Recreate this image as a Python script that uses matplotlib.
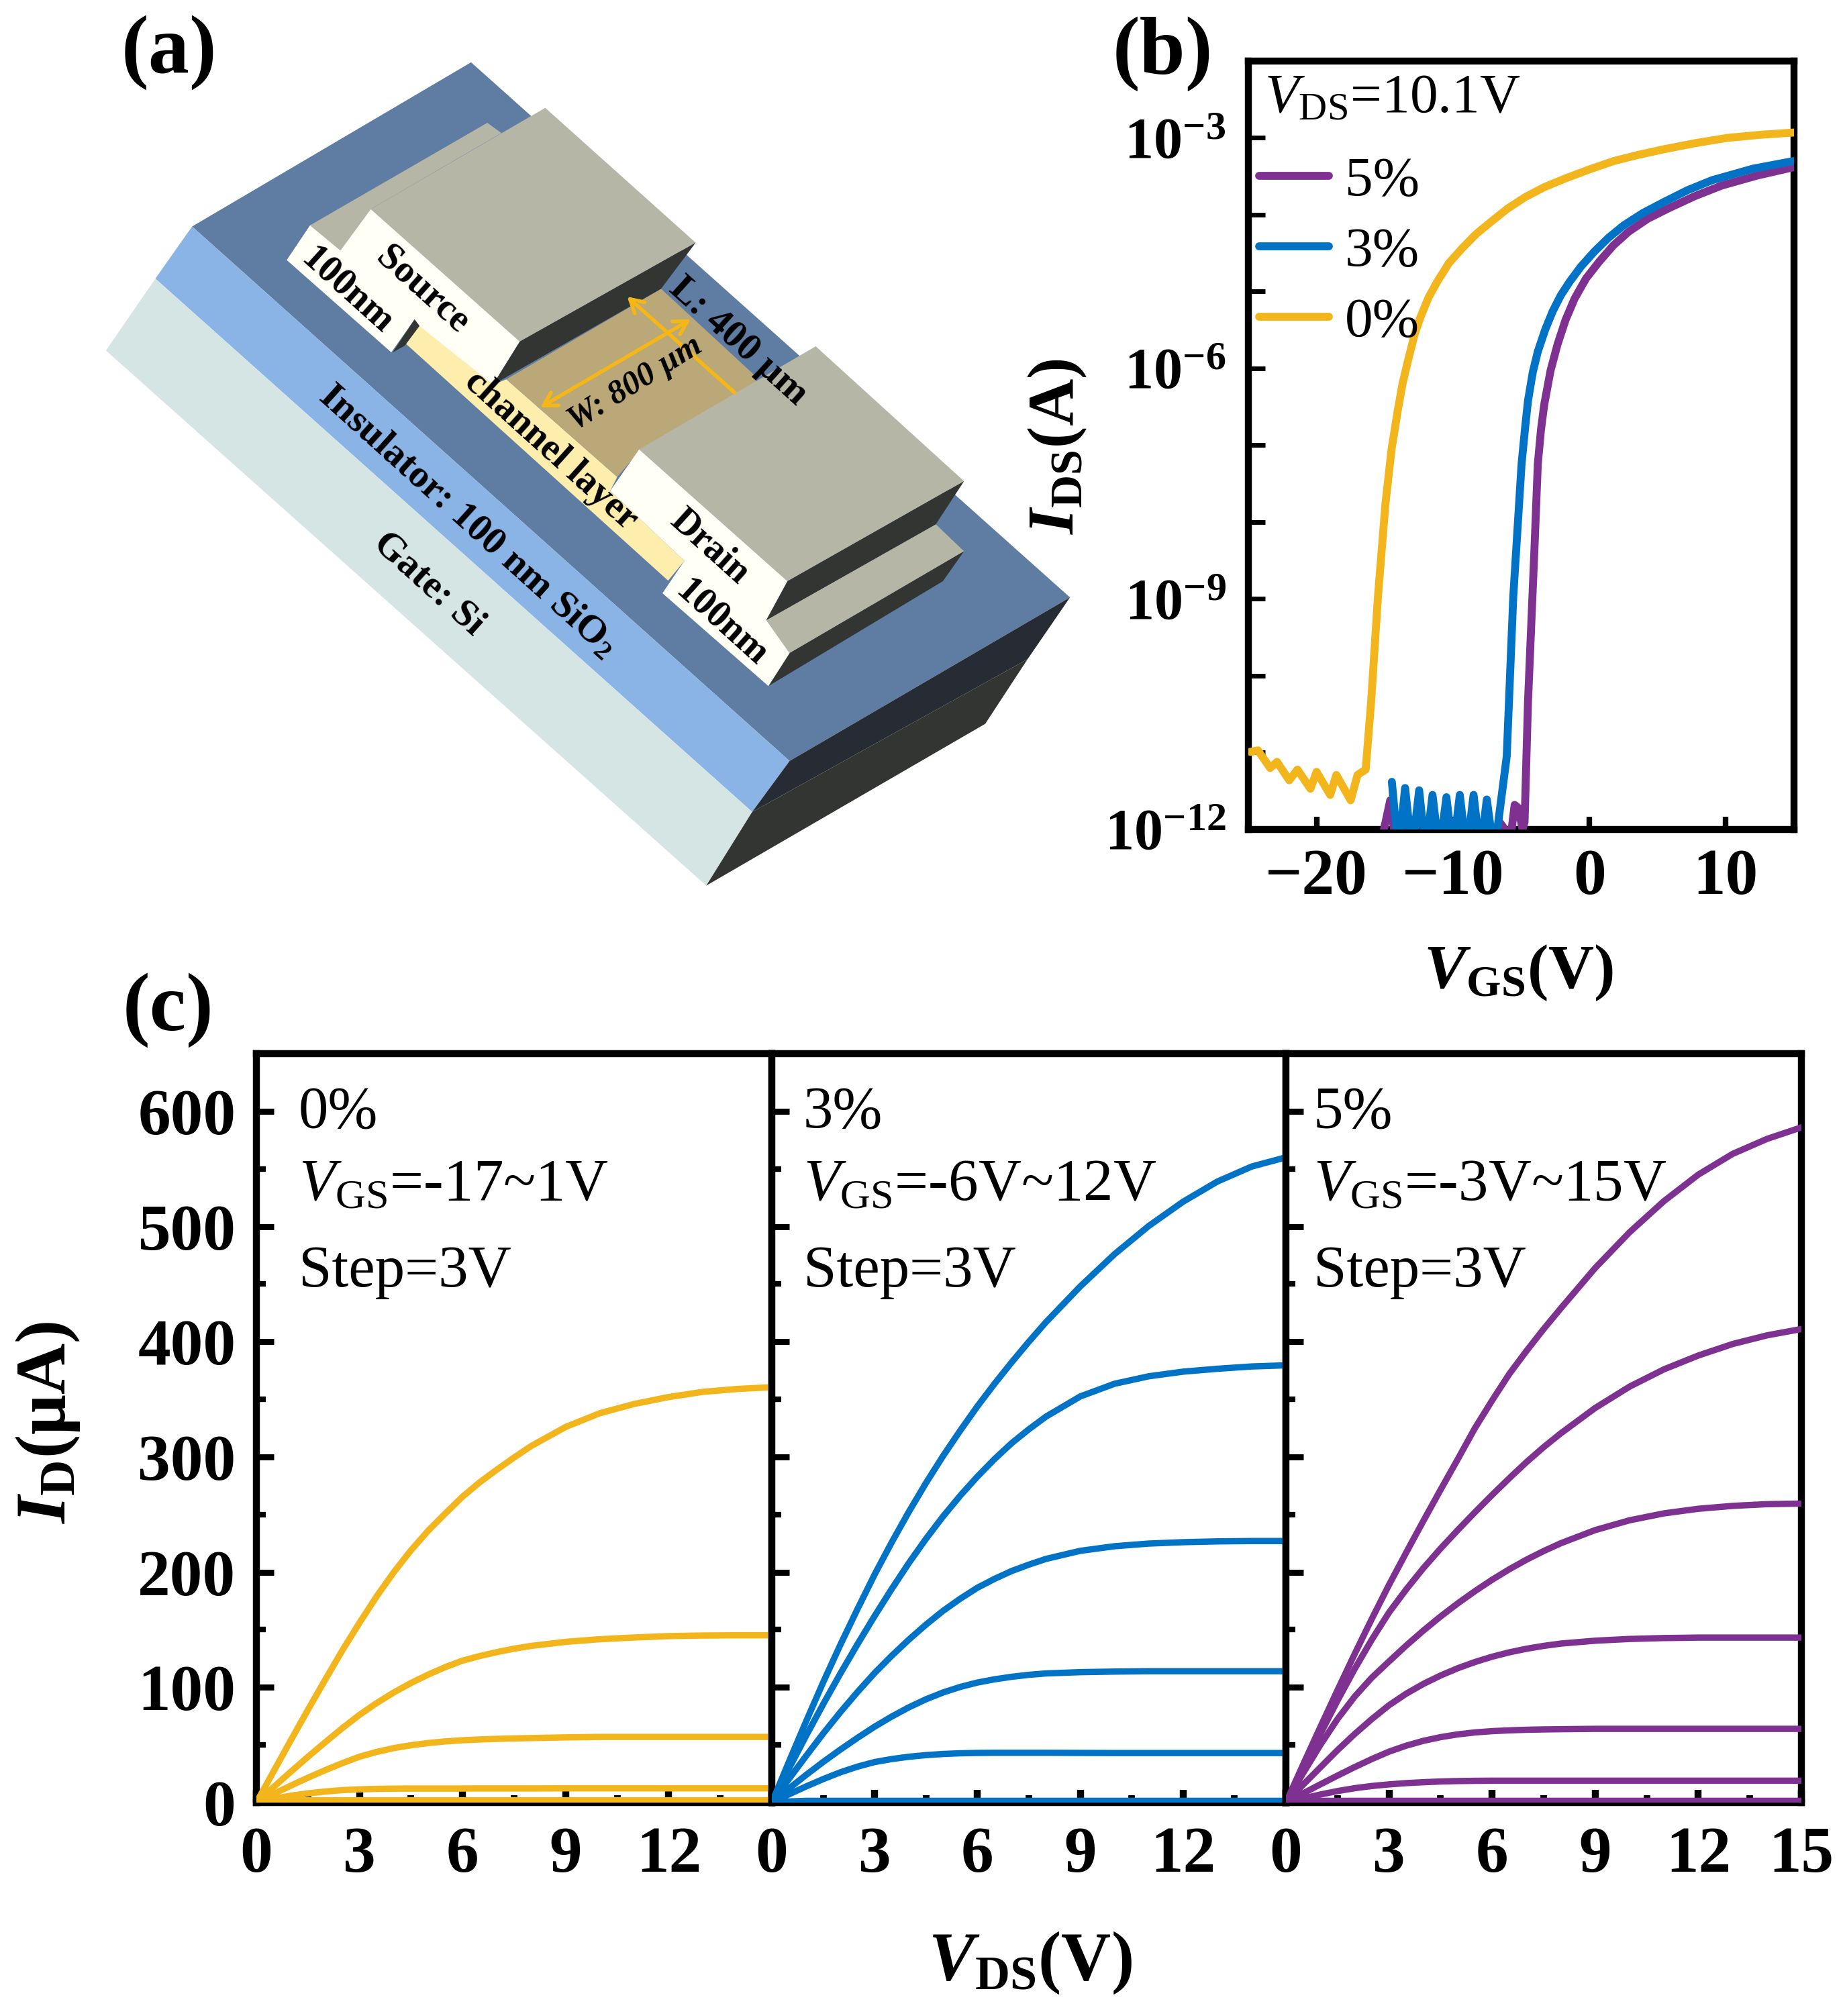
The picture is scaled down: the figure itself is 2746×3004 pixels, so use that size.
import matplotlib
matplotlib.use('Agg')
import matplotlib.pyplot as plt
from matplotlib.patches import Polygon, FancyArrowPatch
import numpy as np

W, H = 2746, 3004
plt.rcParams['font.family'] = ['Liberation Serif', 'DejaVu Serif']
plt.rcParams['mathtext.fontset'] = 'custom'
plt.rcParams['mathtext.rm'] = 'Liberation Serif'
plt.rcParams['mathtext.it'] = 'Liberation Serif:italic'
plt.rcParams['mathtext.bf'] = 'Liberation Serif:bold'
plt.rcParams['mathtext.bfit'] = 'Liberation Serif:italic:bold'

YELLOW = '#f2b51c'
BLUE = '#0073c6'
PURPLE = '#7e3190'

# transfer curves (b), log10 of current
vgs_0 = [-24.85, -24.3, -23.4, -22.9, -22, -21.4, -20.45, -20, -19, -18.55, -17.5, -17, -16.4, -16, -15.5, -14.95,
         -14.5, -14.05, -13.7, -13.3, -12.8, -12.4, -11.8, -11.15, -10.3, -9.35, -8.3, -7.2, -6, -4.7, -3.3, -1.8, 0,
         1.8, 3.6, 5.4, 7.7, 10.1, 12.5, 15]
log_0 = [-10.99, -10.97, -11.2, -11.12, -11.36, -11.22, -11.47, -11.25, -11.55, -11.29, -11.62, -11.29, -11.22, -10.34,
         -8.97, -7.76, -7.05, -6.55, -6.2, -5.9, -5.55, -5.34, -5.08, -4.87, -4.63, -4.44, -4.25, -4.09, -3.92, -3.77,
         -3.64, -3.53, -3.41, -3.3, -3.22, -3.15, -3.07, -3.0, -2.96, -2.93]
vgs_3 = [-14.48, -14, -13.51, -13, -12.48, -12, -11.5, -11, -10.48, -10, -9.5, -9, -8.49, -8, -7.52, -7, -6.75, -6.06,
         -5.58, -4.97, -4.7, -4.5, -4.15, -3.78, -3.25, -2.7, -2.1, -1.44, -0.6, 0.36, 1.4, 2.5, 3.9, 5.4, 7.2, 9, 12, 15]
log_3 = [-11.38, -12.3, -11.46, -12.3, -11.49, -12.3, -11.55, -12.3, -11.58, -12.3, -11.55, -12.3, -11.55, -12.3, -11.61,
         -12.3, -12, -11.05, -8.97, -7.24, -6.75, -6.42, -6.05, -5.78, -5.5, -5.26, -5.05, -4.87, -4.67, -4.48, -4.3,
         -4.14, -3.98, -3.84, -3.68, -3.55, -3.4, -3.3]
vgs_5 = [-15.06, -14.6, -14.1, -13.6, -13.1, -12, -7.2, -6.6, -5.77, -5.48, -5.2, -4.9, -4.75, -4.5, -4.03, -3.78, -3.55,
         -3.31, -2.85, -2.34, -1.75, -1.08, -0.25, 0.72, 1.75, 2.88, 4.3, 5.76, 7.7, 9.7, 12.3, 15]
log_5 = [-12, -11.62, -12.3, -11.9, -12.3, -12.3, -12.3, -11.9, -12.1, -11.68, -11.72, -12, -11.9, -10.34, -8.36, -7.24,
         -6.8, -6.47, -6.03, -5.69, -5.37, -5.09, -4.83, -4.61, -4.4, -4.22, -4.05, -3.92, -3.76, -3.62, -3.49, -3.38]

# output curves (c), uA
vds = [0, .5, 1, 1.5, 2, 2.5, 3, 3.5, 4, 4.5, 5, 5.5, 6, 6.5, 7, 7.5, 8, 9, 10, 11, 12, 13, 14, 15]
id_0 = [
    [0, 27, 54, 80.5, 106.5, 132, 156, 179, 200, 219, 236, 251, 265.5, 278, 289, 299.5, 309.5, 326, 338, 346, 352, 356.5, 359, 360.5],
    [0, 13.5, 26.7, 39.7, 52.3, 64.6, 76.1, 86.4, 95.6, 103.8, 111.1, 117.6, 123.2, 127.2, 130.6, 133.6, 136, 139.5, 141.8, 143.3, 144.5, 145, 145.2, 145.2],
    [0, 7.5, 14.7, 21.6, 28.1, 34.2, 39.8, 44, 47.3, 49.8, 51.7, 53.1, 54.1, 54.8, 55.3, 55.7, 56, 56.6, 57, 57, 57, 57, 57, 57],
    [0, 3.2, 6, 8, 9.6, 10.8, 11.5, 11.9, 12.1, 12.2, 12.2, 12.2, 12.2, 12.3, 12.3, 12.3, 12.3, 12.4, 12.4, 12.4, 12.4, 12.4, 12.4, 12.4],
    [0, 1, 2, 2, 2, 2, 2, 2, 2, 2, 2, 2, 2, 2, 2, 2, 2, 2, 2, 2, 2, 2, 2, 2],
]
id_3 = [
    [0, 35.5, 70.5, 104.5, 137, 168, 198, 226, 252.5, 277.5, 301, 323, 344, 363.6, 382.2, 400, 417, 448, 476, 500.5, 521.5, 539, 552, 560],
    [0, 29.5, 58, 85.5, 112, 137.5, 162, 185.5, 208, 229, 248.5, 266.5, 283, 298.2, 312, 324, 335, 352.5, 363.5, 370, 374, 376.5, 378.5, 379.5],
    [0, 20.5, 40.5, 60, 78.5, 96, 112.5, 127.5, 141.5, 154.5, 166.5, 177, 186.5, 194.2, 201, 206.5, 211.5, 218.5, 222.5, 224.8, 226, 226.7, 227, 227],
    [0, 12.2, 24, 35.3, 46, 56.2, 65.9, 74.7, 82.7, 89.7, 95.6, 100.4, 104.2, 107, 109.2, 110.9, 112.1, 113.2, 113.7, 114, 114, 114, 114, 114],
    [0, 7.2, 14, 20.4, 26.3, 31.2, 35.2, 37.8, 39.8, 41.2, 42.2, 42.8, 43.1, 43.2, 43.2, 43.2, 43.2, 43.1, 43, 43, 43, 43, 43, 43],
    [0, 1, 1.5, 1.5, 1.5, 1.5, 1.5, 1.5, 1.5, 1.5, 1.5, 1.5, 1.5, 1.5, 1.5, 1.5, 1.5, 1.5, 1.5, 1.5, 1.5, 1.5, 1.5, 1.5],
]
id_5 = [
    [0, 33, 65.5, 97.5, 129, 159.5, 189, 217, 244.5, 271.5, 298, 325, 349, 372, 392, 411, 429, 464, 495, 522, 545, 563, 576, 586],
    [0, 30, 59.5, 88.5, 116, 141.5, 165, 185, 203.5, 220.5, 236.5, 252, 267, 281.5, 295.5, 308.5, 320.5, 342.5, 361, 376, 388, 398, 405.5, 411],
    [0, 25.5, 50, 72.5, 92, 108.5, 122.5, 136.3, 149.3, 161.5, 172.9, 183.5, 193.4, 202.5, 210.8, 218.3, 225.1, 236.5, 245, 251, 255, 257.5, 259, 259.5],
    [0, 15.5, 30.5, 45.5, 59.5, 72.5, 84.5, 94.5, 103, 110.3, 116.6, 122, 126.6, 130.4, 133.5, 136, 138, 140.5, 142, 142.8, 143.2, 143.2, 143.2, 143.2],
    [0, 8, 15.8, 23.4, 30.8, 37.8, 44.2, 49.4, 53.6, 56.8, 59.2, 60.9, 62, 62.7, 63.2, 63.5, 63.7, 64, 64, 64, 64, 64, 64, 64],
    [0, 3.6, 7, 10, 12.5, 14.4, 15.8, 16.9, 17.7, 18.3, 18.7, 18.9, 19, 19, 19, 19, 19, 19, 19, 19, 19, 19, 19, 19],
    [0, 1, 1.5, 1.5, 1.5, 1.5, 1.5, 1.5, 1.5, 1.5, 1.5, 1.5, 1.5, 1.5, 1.5, 1.5, 1.5, 1.5, 1.5, 1.5, 1.5, 1.5, 1.5, 1.5],
]

SX, SY = 1650 / 1568, 1400 / 1568
schematic = [
    ('#5f7da3', [(272, 378), (667, 104), (1515, 997), (1118, 1270)]),
    ('#8ab3e6', [(272, 378), (1118, 1270), (1065, 1355), (220, 465)]),
    ('#d5e5e4', [(220, 465), (1065, 1355), (1000, 1478), (150, 585)]),
    ('#272b33', [(1118, 1270), (1515, 997), (1455, 1100), (1065, 1355)]),
    ('#333533', [(1065, 1355), (1455, 1100), (1395, 1208), (1000, 1478)]),
    # channel
    ('#fdeead', [(594, 542), (698, 642), (717, 633), (874, 796), (864, 819), (969, 936), (946, 969), (575, 574)]),
    ('#bba878', [(717, 633), (936, 482), (1070, 628), (1070, 640), (907, 750), (874, 796)]),
    # source
    ('#b6b6a6', [(439, 376), (690, 205), (710, 222), (525, 349), (482, 418)]),
    ('#b6b6a6', [(525, 349), (772, 180), (985, 405), (736, 570)]),
    ('#fffff5', [(406, 434), (439, 376), (482, 418), (525, 349), (736, 570), (698, 642), (594, 544), (587, 533), (554, 588)]),
    ('#333533', [(587, 533), (594, 544), (573, 577), (556, 588)]),
    ('#333533', [(736, 570), (985, 405), (936, 482), (698, 642)]),
    # drain
    ('#b6b6a6', [(1085, 1035), (1325, 875), (1365, 920), (1118, 1090)]),
    ('#333533', [(1118, 1090), (1365, 920), (1335, 970), (1088, 1145)]),
    ('#b6b6a6', [(905, 750), (1155, 578), (1365, 803), (1115, 970)]),
    ('#fffff5', [(905, 750), (1115, 970), (1085, 1035), (1118, 1090), (1088, 1145), (938, 990), (969, 936), (864, 819)]),
    ('#333533', [(1115, 970), (1365, 803), (1325, 875), (1085, 1035)]),
]
schematic_labels = [
    ('100nm', 492, 485, -42, 41, 'normal'),
    ('Source', 598, 484, -42, 41, 'normal'),
    ('channel layer', 780, 752, -42, 41, 'normal'),
    ('Insulator: 100 nm SiO$_\\mathbf{2}$', 662, 870, -42, 42, 'normal'),
    ('Gate: Si', 607, 975, -42, 42, 'normal'),
    ('Drain', 1005, 912, -42, 40, 'normal'),
    ('100nm', 1022, 1040, -42, 41, 'normal'),
    ('L: 400 µm', 1045, 570, -42, 42, 'normal'),
    ('W: 800 µm', 900, 640, 32, 36, 'italic'),
]


def px_axes(fig, left, top, right, bottom):
    return fig.add_axes([left / W, 1 - bottom / H, (right - left) / W, (bottom - top) / H])


def put(fig, x, y, s, **kw):
    kw.setdefault('ha', 'center')
    kw.setdefault('va', 'center')
    fig.text(x / W, 1 - y / H, s, **kw)


def draw_schematic(fig):
    ax = fig.add_axes([0, 0, 1, 1], zorder=-1)
    ax.set_xlim(0, W)
    ax.set_ylim(H, 0)
    ax.axis('off')
    for color, pts in schematic:
        pts = [(x * SX, y * SY) for x, y in pts]
        ax.add_patch(Polygon(pts, closed=True, facecolor=color, edgecolor='none'))
    for s, x, y, rot, size, style in schematic_labels:
        ax.text(x * SX, y * SY, s, rotation=rot, rotation_mode='anchor', ha='center', va='center',
                fontsize=size, fontweight='bold', fontstyle=style, color='black', zorder=5)
    ax.add_patch(FancyArrowPatch((1040 * SX, 655 * SY), (888 * SX, 495 * SY), arrowstyle='->,head_length=14,head_width=8',
                                 color='#f5b718', lw=4, shrinkA=0, shrinkB=0, zorder=4))
    ax.add_patch(FancyArrowPatch((765 * SX, 680 * SY), (978 * SX, 533 * SY), arrowstyle='<->,head_length=14,head_width=8',
                                 color='#f5b718', lw=4, shrinkA=0, shrinkB=0, zorder=4))


def draw_transfer(fig):
    ax = px_axes(fig, 1860, 91, 2673, 1236)
    ax.set_yscale('log')
    ax.plot(vgs_5, 10.0 ** np.array(log_5), color=PURPLE, lw=8.5, zorder=3, label='5%', solid_capstyle='round')
    ax.plot(vgs_3, 10.0 ** np.array(log_3), color=BLUE, lw=8.5, zorder=3, label='3%', solid_capstyle='round')
    ax.plot(vgs_0, 10.0 ** np.array(log_0), color=YELLOW, lw=8.5, zorder=3, label='0%', solid_capstyle='round')
    ax.set_xlim(-25, 15)
    ax.set_ylim(1e-12, 1e-2)
    ax.set_xticks([-20, -10, 0, 10])
    ax.set_xticklabels(['\u221220', '\u221210', '0', '10'], fontsize=70, fontweight='bold')
    ax.set_yticks([1e-12, 1e-9, 1e-6, 1e-3])
    ax.set_yticklabels(['$\\mathbf{10^{-12}}$', '$\\mathbf{10^{-9}}$', '$\\mathbf{10^{-6}}$', '$\\mathbf{10^{-3}}$'],
                       fontsize=62)
    ax.set_yticks([10.0 ** k for k in range(-11, -2) if k % 3 != 0], minor=True)
    ax.set_yticklabels([], minor=True)
    ax.tick_params(axis='x', which='major', direction='in', length=14, width=6, pad=20)
    ax.tick_params(axis='y', which='major', direction='in', length=18, width=5, pad=24)
    ax.tick_params(axis='y', which='minor', direction='in', length=18, width=5)
    for s in ax.spines.values():
        s.set_linewidth(7.5)
    ax.legend(loc='upper left', bbox_to_anchor=(-0.021, 0.905), frameon=False, fontsize=60, handlelength=1.25,
              handletextpad=0.28, labelspacing=0.34, borderaxespad=0.2, borderpad=0.2)
    ax.text(0.029, 0.951, '$\\mathit{V}_{\\mathrm{DS}}$=10.1V', transform=ax.transAxes, fontsize=60, va='center')


def draw_output(fig, left, right, curves, color, notes, last=False, first=False):
    ax = px_axes(fig, left, 1570, right, 2686)
    for ys in curves:
        ax.plot(vds, ys, color=color, lw=6.8, zorder=3)
    ax.set_xlim(0, 15)
    ax.set_ylim(0, 650)
    ax.set_xticks([0, 3, 6, 9, 12, 15])
    ax.set_xticklabels(['0', '3', '6', '9', '12', '15' if last else ''], fontsize=70, fontweight='bold')
    ax.set_xticks(np.arange(1.5, 15, 3), minor=True)
    ax.set_yticks(np.arange(0, 601, 100))
    ax.set_yticks(np.arange(50, 651, 100), minor=True)
    if first:
        ax.set_yticklabels(['0', '100', '200', '300', '400', '500', '600'], fontsize=70, fontweight='bold')
    else:
        ax.set_yticklabels([])
    ax.tick_params(axis='x', which='major', direction='in', length=14, width=7.5, pad=25)
    ax.tick_params(axis='x', which='minor', direction='in', length=8, width=7)
    ax.tick_params(axis='y', which='major', direction='in', length=19, width=6.5, pad=22)
    ax.tick_params(axis='y', which='minor', direction='in', length=10, width=6)
    for s in ax.spines.values():
        s.set_linewidth(7.5)
    for text, y in zip(notes[1:], (1658, 1766, 1896)):
        put(fig, notes[0], y, text, fontsize=64, ha='left')


fig = plt.figure(figsize=(W / 100, H / 100), dpi=100)
draw_schematic(fig)
draw_transfer(fig)
draw_output(fig, 382, 1150, id_0, YELLOW, (445, '0%', '$\\mathit{V}_{\\mathrm{GS}}$=-17~1V', 'Step=3V'), first=True)
draw_output(fig, 1150, 1916, id_3, BLUE, (1197, '3%', '$\\mathit{V}_{\\mathrm{GS}}$=-6V~12V', 'Step=3V'))
draw_output(fig, 1916, 2684, id_5, PURPLE, (1957, '5%', '$\\mathit{V}_{\\mathrm{GS}}$=-3V~15V', 'Step=3V'), last=True)

put(fig, 252, 78, '(a)', fontsize=88, fontweight='bold')
put(fig, 1732, 80, '(b)', fontsize=88, fontweight='bold')
put(fig, 250, 1505, '(c)', fontsize=88, fontweight='bold')
put(fig, 1576, 665, '$\\mathbfit{I}_{\\mathbf{DS}}\\mathbf{(A)}$', fontsize=70, rotation=90)
put(fig, 2263, 1450, '$\\mathbfit{V}_{\\mathbf{GS}}\\mathbf{(V)}$', fontsize=68)
put(fig, 72, 2120, '$\\mathbfit{I}_{\\mathbf{D}}\\mathbf{(\u03bcA)}$', fontsize=76, rotation=90)
put(fig, 1535, 2925, '$\\mathbfit{V}_{\\mathbf{DS}}\\mathbf{(V)}$', fontsize=74)

fig.savefig('out.png', dpi=100)
